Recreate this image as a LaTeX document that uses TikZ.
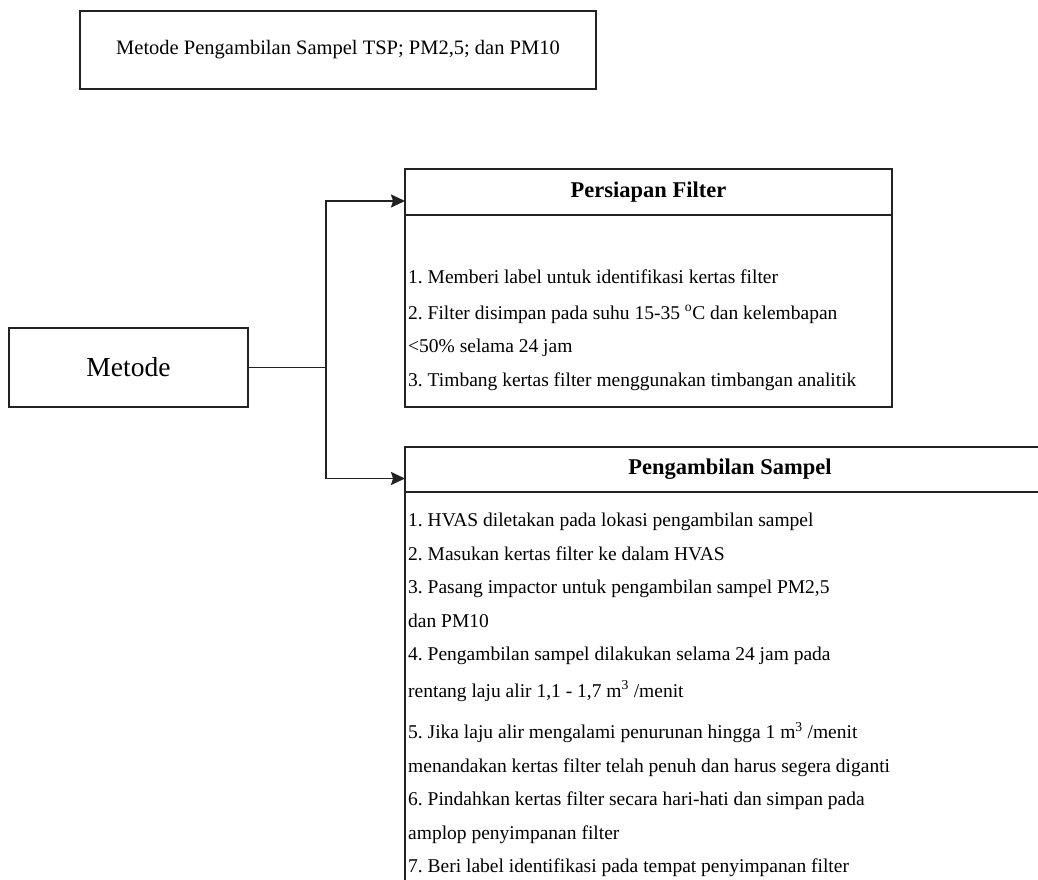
\documentclass[tikz,border=0pt]{standalone}
\usepackage{fontspec}
\setmainfont{Liberation Serif}
\usetikzlibrary{arrows.meta,positioning}
\definecolor{sampelline}{HTML}{222222}

\begin{document}
\frenchspacing
\begin{tikzpicture}[x=1pt, y=-1pt,
  every node/.style={font=\fontsize{19.5}{33.5}\selectfont},
  box/.style={draw=sampelline, line width=1.8pt, align=center},
  head/.style={draw=sampelline, line width=1.8pt, anchor=north west, outer sep=0pt,
               font=\fontsize{22.5}{26}\selectfont\bfseries},
  panel/.style={draw=sampelline, line width=1.8pt, anchor=north west, outer sep=0pt},
  steps/.style={anchor=north west, inner sep=0pt, align=left},
  link/.style={draw=sampelline, line width=1.8pt},
  arrow/.style={link, -{Stealth[length=14pt, width=13pt, inset=2pt]}}
]
\path[use as bounding box, clip] (0,0) rectangle (1038,880);
\node[box, minimum width=516pt, minimum height=78pt, font=\fontsize{20.5}{25}\selectfont]
  (title) at (338,50) {Metode Pengambilan Sampel TSP; PM2,5; dan PM10};
\node[box, minimum width=239pt, minimum height=79pt, font=\fontsize{27.5}{30}\selectfont]
  (metode) at (128.5,367.5) {Metode};
\node[head, minimum width=487pt, minimum height=46pt] (phead) at (405,169) {Persiapan Filter};
\node[panel, minimum width=487pt, minimum height=192pt] (pbody) at (phead.south west) {};
\node[steps] (ptext) at ([xshift=3pt, yshift=-55pt]pbody.north west)
  {1. Memberi label untuk identifikasi kertas filter\\[2pt]
   2. Filter disimpan pada suhu 15-35 \textsuperscript{o}C dan kelembapan\\
   <50\% selama 24 jam\\
   3. Timbang kertas filter menggunakan timbangan analitik};
\node[head, minimum width=650pt, minimum height=45pt] (shead) at (405,447) {Pengambilan Sampel};
\node[panel, minimum width=650pt, minimum height=420pt] (sbody) at (shead.south west) {};
\node[steps] (stext) at ([xshift=3pt, yshift=-21pt]sbody.north west)
  {1. HVAS diletakan pada lokasi pengambilan sampel\\
   2. Masukan kertas filter ke dalam HVAS\\
   3. Pasang impactor untuk pengambilan sampel PM2,5\\
   dan PM10\\
   4. Pengambilan sampel dilakukan selama 24 jam pada\\[3pt]
   rentang laju alir 1,1 - 1,7 m\textsuperscript{3} /menit\\[8pt]
   5. Jika laju alir mengalami penurunan hingga 1 m\textsuperscript{3} /menit\\
   menandakan kertas filter telah penuh dan harus segera diganti\\
   6. Pindahkan kertas filter secara hari-hati dan simpan pada\\
   amplop penyimpanan filter\\
   7. Beri label identifikasi pada tempat penyimpanan filter};
\coordinate (split) at (326,367.5);
\draw[link] (metode.east) -- (split);
\draw[arrow] (split) |- ([yshift=-9pt]phead.west);
\draw[arrow] (split) |- ([yshift=-9pt]shead.west);
\end{tikzpicture}
\end{document}
